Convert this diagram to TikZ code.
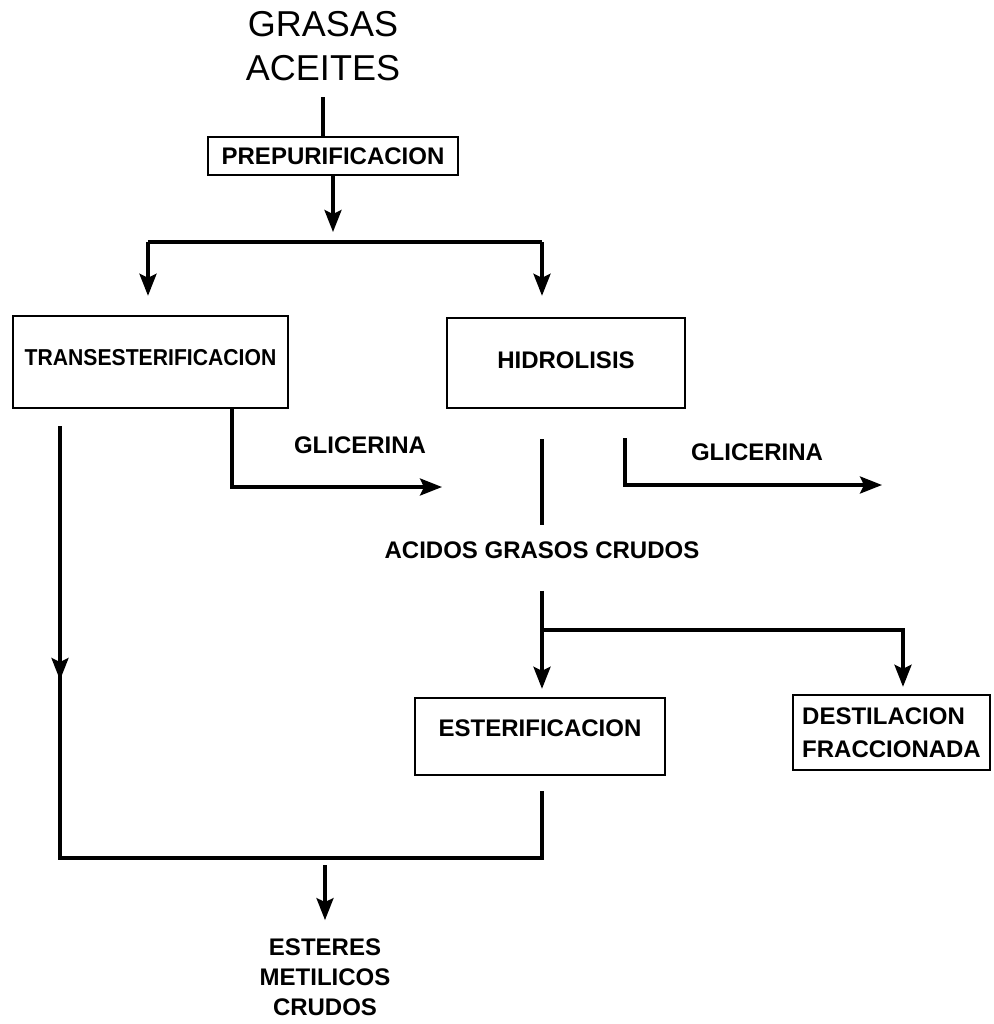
\documentclass[tikz,border=0pt]{standalone}
\usepackage{fontspec}
\setmainfont{Liberation Sans}
\usetikzlibrary{arrows.meta,positioning}

\tikzset{
  proc/.style={draw, line width=1.2pt, inner sep=2pt,
    font=\bfseries\fontsize{12}{16.5}\selectfont},
  lbl/.style={inner sep=1pt, align=center,
    font=\bfseries\fontsize{12}{15}\selectfont},
  flow/.style={line width=1.7pt},
  arr/.style={flow, -{Stealth[length=11pt,width=8.5pt,inset=2pt]}},
}

\begin{document}
\begin{tikzpicture}[x=0.5pt,y=-0.5pt]
 \useasboundingbox (0,0) rectangle (993,1024);
 % raw material and first step
 \node[font=\fontsize{18}{22}\selectfont, align=center, inner sep=0pt] (src) at (323,46) {GRASAS\\ACEITES};
 \node[proc, minimum width=125pt, minimum height=19pt] (prep) at (333,156) {PREPURIFICACION};
 % the two routes
 \node[proc, minimum width=137.5pt, minimum height=46pt, text height=9pt, text depth=5.4pt,
   font=\bfseries\fontsize{11.5}{14}\selectfont\addfontfeature{FakeStretch=0.92}] (trans) at (150.5,362) {TRANSESTERIFICACION};
 \node[proc, minimum width=119pt, minimum height=45pt, text height=9pt, text depth=3.4pt] (hidro) at (566,363) {HIDROLISIS};
 \node[lbl] (glic1) at (360,445) {GLICERINA};
 \node[lbl] (glic2) at (757,452) {GLICERINA};
 \node[lbl] (acidos) at (542,550) {ACIDOS GRASOS CRUDOS};
 \node[proc, minimum width=125pt, minimum height=38.5pt, text height=8pt, text depth=8pt] (ester) at (540,736.5) {ESTERIFICACION};
 \node[proc, minimum width=98.5pt, minimum height=37.5pt, align=left] (dest) at (891.5,732.5) {DESTILACION\\FRACCIONADA};
 \node[lbl] (prod) at (325,977) {ESTERES\\METILICOS\\CRUDOS};

 % junctions
 \coordinate (sl) at (148,242);
 \coordinate (sr) at (542,242);
 \coordinate (g1) at (232,487);
 \coordinate (g1e) at (442,487);
 \coordinate (g2) at (625,485);
 \coordinate (g2e) at (882,485);
 \coordinate (bj) at (542,630);
 \coordinate (bd) at (903,630);
 \coordinate (lm) at (60,680);
 \coordinate (jl) at (60,858);
 \coordinate (jm) at (325,858);
 \coordinate (jr) at (542,858);

 \draw[flow, shorten <=8pt] (src.south) -- (src.south |- prep.north);
 \draw[arr, shorten >=5pt] (prep.south) -- (prep.south |- sl);
 \draw[flow] (sl) -- (sr);
 \draw[arr, shorten >=9.5pt] (sl) -- (sl |- trans.north);
 \draw[arr, shorten >=10.5pt] (sr) -- (sr |- hidro.north);

 \draw[arr] (g1 |- trans.south) -- (g1) -- (g1e);
 \draw[flow, shorten <=15pt, shorten >=7pt] (hidro.south -| acidos) -- (acidos.north);
 \draw[arr, shorten <=14.5pt] (g2 |- hidro.south) -- (g2) -- (g2e);

 \draw[arr, shorten <=15pt, shorten >=4pt] (acidos.south) -- (acidos.south |- ester.north);
 \draw[arr, shorten >=3.5pt] (bj) -- (bd) -- (bd |- dest.north);

 \draw[flow, shorten <=8.5pt, shorten >=7.5pt] (jl |- trans.south) -- (jl) -- (jr) -- (jr |- ester.south);
 \draw[arr, shorten <=8.5pt] (jl |- trans.south) -- (lm);
 \draw[arr, shorten <=3.5pt, shorten >=8pt] (jm) -- (prod.north);
\end{tikzpicture}
\end{document}
